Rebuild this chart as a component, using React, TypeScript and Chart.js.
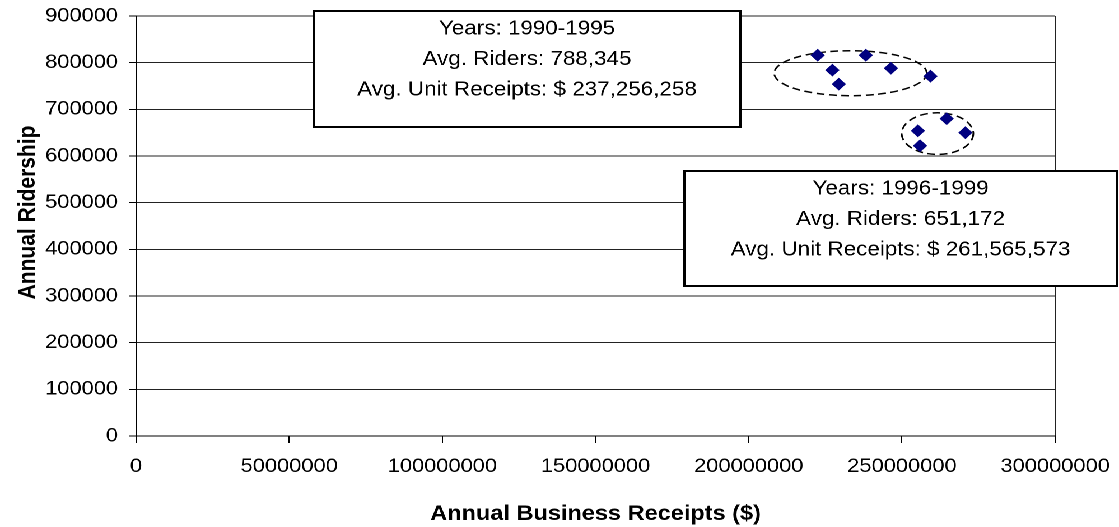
import React, { useEffect, useRef } from "react";
import { Chart, registerables } from "chart.js";

Chart.register(...registerables);

// ---- Data ----
const receiptsEarly = [222.5e6, 227.3e6, 229.4e6, 238.2e6, 246.4e6, 259.3e6];
const ridersEarly = [816000, 784000, 754000, 816000, 788000, 771000];
const receiptsLate = [255.2e6, 255.9e6, 264.6e6, 270.7e6];
const ridersLate = [654000, 622000, 680000, 650000];

const xTickValues = [0, 50000000, 100000000, 150000000, 200000000, 250000000, 300000000];
const yTickValues = [0, 100000, 200000, 300000, 400000, 500000, 600000, 700000, 800000, 900000];

const xTitle = "Annual Business Receipts ($)";
const yTitle = "Annual Ridership";

// Dashed grouping ellipses (data units)
const ellipseCenterX = [233.2e6, 261.6e6];
const ellipseCenterY = [777400, 648000];
const ellipseRadiusX = [24.9e6, 11.7e6];
const ellipseRadiusY = [48200, 44600];

// Annotation boxes (data units) and their text
const boxLeft = [58.1e6, 178.9e6];
const boxRight = [197.2e6, 320.2e6];
const boxTop = [910700, 567900];
const boxBottom = [662100, 321400];
const boxLines = [
  ["Years: 1990-1995", "Avg. Riders: 788,345", "Avg. Unit Receipts: $ 237,256,258"],
  ["Years: 1996-1999", "Avg. Riders: 651,172", "Avg. Unit Receipts: $ 261,565,573"],
];

const FONT = "'Liberation Sans', Arial, Helvetica, sans-serif";
const STRETCH = 1119 / 999;

const ellipsePlugin = {
  id: "groupEllipses",
  beforeDatasetsDraw(chart: any) {
    const { ctx, scales } = chart;
    const x = scales.x;
    const y = scales.y;
    ctx.save();
    ctx.strokeStyle = "#000";
    ctx.lineWidth = 1.5;
    ctx.setLineDash([7, 4]);
    for (let i = 0; i < ellipseCenterX.length; i++) {
      const cx = x.getPixelForValue(ellipseCenterX[i]);
      const cy = y.getPixelForValue(ellipseCenterY[i]);
      const rx = Math.abs(x.getPixelForValue(ellipseCenterX[i] + ellipseRadiusX[i]) - cx);
      const ry = Math.abs(y.getPixelForValue(ellipseCenterY[i] + ellipseRadiusY[i]) - cy);
      ctx.beginPath();
      ctx.ellipse(cx, cy, rx, ry, 0, 0, Math.PI * 2);
      ctx.stroke();
    }
    ctx.restore();
  },
};

const boxPlugin = {
  id: "annotationBoxes",
  afterDatasetsDraw(chart: any) {
    const { ctx, scales } = chart;
    const x = scales.x;
    const y = scales.y;
    ctx.save();
    for (let i = 0; i < boxLeft.length; i++) {
      const l = Math.round(x.getPixelForValue(boxLeft[i]));
      const r = Math.round(x.getPixelForValue(boxRight[i]));
      const t = Math.round(y.getPixelForValue(boxTop[i]));
      const b = Math.round(y.getPixelForValue(boxBottom[i]));
      ctx.fillStyle = "#fff";
      ctx.fillRect(l, t, r - l, b - t);
      ctx.strokeStyle = "#000";
      ctx.lineWidth = 2;
      ctx.strokeRect(l, t, r - l, b - t);
      ctx.fillStyle = "#000";
      ctx.font = `20px ${FONT}`;
      ctx.textAlign = "center";
      ctx.textBaseline = "alphabetic";
      const mid = (l + r) / 2;
      boxLines[i].forEach((line, k) => {
        ctx.fillText(line, mid, t + 23.3 + k * 30.7);
      });
    }
    ctx.restore();
  },
};

// Rotated y-axis title, placed slightly above the centre of the plot area
const yTitlePlugin = {
  id: "yAxisTitle",
  afterDraw(chart: any) {
    const { ctx, chartArea } = chart;
    const cy = (chartArea.top + chartArea.bottom) / 2 - 13.5;
    ctx.save();
    ctx.translate(31, cy);
    ctx.rotate(-Math.PI / 2);
    ctx.font = `bold 21px ${FONT}`;
    ctx.fillStyle = "#000";
    ctx.textAlign = "center";
    ctx.textBaseline = "alphabetic";
    ctx.fillText(yTitle, 0, 0);
    ctx.restore();
  },
};

export default function App() {
  const canvasRef = useRef<HTMLCanvasElement | null>(null);

  useEffect(() => {
    if (!canvasRef.current) return;
    Chart.defaults.font.family = FONT;
    Chart.defaults.color = "#000";
    const chart = new Chart(canvasRef.current, {
      type: "scatter",
      data: {
        datasets: [
          {
            label: "1990-1995",
            data: receiptsEarly.map((v, i) => ({ x: v, y: ridersEarly[i] })),
            pointStyle: "rectRot",
            pointRadius: 5.7,
            backgroundColor: "#000080",
            borderColor: "#000080",
            borderWidth: 1,
          },
          {
            label: "1996-1999",
            data: receiptsLate.map((v, i) => ({ x: v, y: ridersLate[i] })),
            pointStyle: "rectRot",
            pointRadius: 5.7,
            backgroundColor: "#000080",
            borderColor: "#000080",
            borderWidth: 1,
          },
        ],
      },
      options: {
        animation: false,
        responsive: true,
        maintainAspectRatio: false,
        devicePixelRatio: 2,
        layout: { padding: { top: 16, right: 57, left: 0, bottom: 0 } },
        plugins: {
          legend: { display: false },
          tooltip: { enabled: false },
          title: { display: false },
        },
        scales: {
          x: {
            type: "linear",
            min: 0,
            max: 300000000,
            afterBuildTicks: (s: any) => {
              s.ticks = xTickValues.map((v) => ({ value: v }));
            },
            afterFit: (s: any) => {
              s.height = 91;
              s.paddingLeft = 0;
              s.paddingRight = 0;
            },
            ticks: {
              callback: (v: any) => String(v),
              color: "#000",
              font: { size: 19.5 },
              padding: 12,
              maxRotation: 0,
              autoSkip: false,
            },
            grid: {
              color: (c: any) => (c.index === xTickValues.length - 1 ? "#222" : "rgba(0,0,0,0)"),
              tickColor: "#000",
              tickLength: 7,
              lineWidth: 1,
            },
            border: { color: "#000", width: 1 },
            title: {
              display: true,
              text: xTitle,
              color: "#000",
              font: { size: 21, weight: "bold" },
              padding: { top: 0, bottom: 0 },
            },
          },
          y: {
            type: "linear",
            min: 0,
            max: 900000,
            afterBuildTicks: (s: any) => {
              s.ticks = yTickValues.map((v) => ({ value: v }));
            },
            afterFit: (s: any) => {
              s.width = 121.4;
              s.paddingTop = 0;
              s.paddingBottom = 0;
            },
            ticks: {
              callback: (v: any) => String(v),
              color: "#000",
              font: { size: 19.5 },
              padding: 10,
            },
            grid: {
              color: "#222",
              tickColor: "#000",
              tickLength: 6,
              lineWidth: 1,
            },
            border: { color: "#000", width: 1 },
            title: { display: false },
          },
        },
      } as any,
      plugins: [ellipsePlugin, boxPlugin, yTitlePlugin],
    });
    return () => chart.destroy();
  }, []);

  return (
    <div
      style={{
        position: "fixed",
        left: 0,
        top: 0,
        width: 999,
        height: 527,
        background: "#fff",
        transform: `scaleX(${STRETCH})`,
        transformOrigin: "0 0",
      }}
    >
      <canvas ref={canvasRef} />
    </div>
  );
}
